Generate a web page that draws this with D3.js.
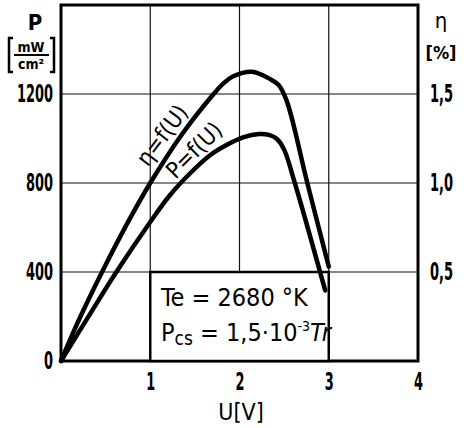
<!DOCTYPE html>
<html>
<head>
<meta charset="utf-8">
<script src="https://cdn.jsdelivr.net/npm/d3@7"></script>
<style>
  body { margin: 0; background: #fff; }
  text { font-family: "DejaVu Sans Condensed", "DejaVu Sans", sans-serif; font-weight: bold; fill: #000; }
</style>
</head>
<body>
<div id="chart"></div>
<script>
// ------- data -------
var etaU   = [0, 0.2, 0.46, 0.75, 1.0, 1.35, 1.71, 1.82, 1.93, 2.14, 2.34, 2.44, 2.53, 2.76, 3.0];
var etaVal = [0, 0.23, 0.5, 0.78, 1.0, 1.27, 1.5, 1.56, 1.6, 1.625, 1.585, 1.55, 1.46, 1.0, 0.53];

var powU   = [0, 0.3, 0.62, 1.0, 1.22, 1.45, 1.67, 1.86, 2.04, 2.22, 2.33, 2.42, 2.5, 2.62, 2.96];
var powVal = [0, 195, 400, 625, 745, 845, 925, 972, 1005, 1020, 1016, 998, 950, 800, 317];

var xTicks = [1, 2, 3, 4];
var pTicks = [0, 400, 800, 1200];
var etaTicks = [0.5, 1.0, 1.5];

var W = 471, H = 428;
var m = {left: 61, right: 418, top: 5, bottom: 361};

var svg = d3.select("#chart").append("svg")
  .attr("width", W).attr("height", H)
  .style("background", "#fff");

var x = d3.scaleLinear().domain([0, 4]).range([m.left, m.right]);
var y = d3.scaleLinear().domain([0, 1600]).range([m.bottom, m.top]);
var yEta = d3.scaleLinear().domain([0, 2]).range([m.bottom, m.top]);

// narrow the tick digits like the old stencil lettering
function squeeze(sel) {
  sel.each(function() {
    var s = this.textContent, w = 0;
    for (var c of s) w += (c === "," ? 5 : 9);
    d3.select(this).attr("textLength", w).attr("lengthAdjust", "spacingAndGlyphs");
  });
}

// ------ grid ------
var g = svg.append("g");
g.selectAll("line.vx").data([1, 2, 3]).enter().append("line")
  .attr("x1", d => x(d)).attr("x2", d => x(d))
  .attr("y1", m.top).attr("y2", m.bottom)
  .attr("stroke", "#111").attr("stroke-width", 1.2);
g.selectAll("line.hy").data([400, 800, 1200]).enter().append("line")
  .attr("x1", m.left).attr("x2", m.right)
  .attr("y1", d => y(d)).attr("y2", d => y(d))
  .attr("stroke", "#111").attr("stroke-width", 1.2);

// frame
svg.append("rect")
  .attr("x", m.left).attr("y", m.top)
  .attr("width", m.right - m.left).attr("height", m.bottom - m.top)
  .attr("fill", "none").attr("stroke", "#000").attr("stroke-width", 3);

// info box (sits on the grid U=1..3, P=0..400)
svg.append("rect")
  .attr("x", x(1)).attr("y", y(400))
  .attr("width", x(3) - x(1)).attr("height", y(0) - y(400))
  .attr("fill", "#fff").attr("stroke", "#000").attr("stroke-width", 2.5);

// ------ axes labels ------
var xAxis = d3.axisBottom(x).tickValues(xTicks).tickSize(0).tickPadding(12).tickFormat(d3.format("d"));
var xa = svg.append("g").attr("transform", "translate(0," + m.bottom + ")").call(xAxis);
xa.select(".domain").remove();
xa.selectAll("text").style("font-size", "24px").attr("font-family", null).attr("fill", "#000").call(squeeze);

var yAxis = d3.axisLeft(y).tickValues(pTicks).tickSize(0).tickPadding(8).tickFormat(d3.format("d"));
var ya = svg.append("g").attr("transform", "translate(" + m.left + ",0)").call(yAxis);
ya.select(".domain").remove();
ya.selectAll("text").style("font-size", "24px").attr("font-family", null).attr("fill", "#000").call(squeeze);

var etaFmt = function(d) { return d3.format(".1f")(d).replace(".", ","); };
var yrAxis = d3.axisRight(yEta).tickValues(etaTicks).tickSize(0).tickPadding(12).tickFormat(etaFmt);
var yra = svg.append("g").attr("transform", "translate(" + m.right + ",0)").call(yrAxis);
yra.select(".domain").remove();
yra.selectAll("text").style("font-size", "24px").attr("font-family", null).attr("fill", "#000").call(squeeze);

svg.append("text").attr("x", 241).attr("y", 420).attr("text-anchor", "middle")
  .style("font-size", "23px").style("font-weight", "normal").text("U[V]");

// left axis title
svg.append("text").attr("x", 35).attr("y", 30).attr("text-anchor", "middle")
  .style("font-size", "22px").text("P");
svg.append("text").attr("x", 31).attr("y", 52).attr("text-anchor", "middle")
  .style("font-size", "14px").text("mW");
svg.append("line").attr("x1", 14).attr("x2", 49).attr("y1", 55).attr("y2", 55)
  .attr("stroke", "#000").attr("stroke-width", 2);
svg.append("text").attr("x", 31).attr("y", 69).attr("text-anchor", "middle")
  .style("font-size", "14px").text("cm²");
var bracket = d3.path();
bracket.moveTo(13, 38); bracket.lineTo(9, 38); bracket.lineTo(9, 72); bracket.lineTo(13, 72);
bracket.moveTo(50, 38); bracket.lineTo(54, 38); bracket.lineTo(54, 72); bracket.lineTo(50, 72);
svg.append("path").attr("d", bracket.toString())
  .attr("fill", "none").attr("stroke", "#000").attr("stroke-width", 2.5);

// right axis title
svg.append("text").attr("x", 441).attr("y", 28).attr("text-anchor", "middle")
  .style("font-size", "22px").style("font-weight", "normal").text("η");
svg.append("text").attr("x", 441).attr("y", 59).attr("text-anchor", "middle")
  .style("font-size", "18px").text("[%]");

// ------ curves ------
var line = d3.line().curve(d3.curveCatmullRom.alpha(0.5));
var etaPts = etaU.map((u, i) => [x(u), yEta(etaVal[i])]);
var powPts = powU.map((u, i) => [x(u), y(powVal[i])]);

svg.append("path").attr("d", line(etaPts))
  .attr("fill", "none").attr("stroke", "#000").attr("stroke-width", 4.5)
  .attr("stroke-linecap", "round").attr("stroke-linejoin", "round");
svg.append("path").attr("d", line(powPts))
  .attr("fill", "none").attr("stroke", "#000").attr("stroke-width", 4.5)
  .attr("stroke-linecap", "round").attr("stroke-linejoin", "round");

// curve labels
svg.append("text").attr("transform", "translate(162,135) rotate(-53)")
  .attr("text-anchor", "middle").attr("dy", "0.35em")
  .style("font-size", "23px").style("font-weight", "normal").text("η=f(U)");
svg.append("text").attr("transform", "translate(194,150) rotate(-45)")
  .attr("text-anchor", "middle").attr("dy", "0.35em")
  .style("font-size", "23px").style("font-weight", "normal").text("P=f(U)");

// box text
svg.append("text").attr("x", 161).attr("y", 306)
  .style("font-size", "25px").style("font-weight", "normal")
  .text("Te = 2680 °K");
var t2 = svg.append("text").attr("x", 161).attr("y", 341)
  .style("font-size", "25px").style("font-weight", "normal");
t2.append("tspan").text("P");
t2.append("tspan").attr("dy", 4).style("font-size", "19px").text("cs");
t2.append("tspan").attr("dy", -4).text(" = 1,5·10");
t2.append("tspan").attr("dy", -10).style("font-size", "14px").text("-3");
t2.append("tspan").attr("dy", 10).style("font-style", "italic").text("Tr");
</script>
</body>
</html>
